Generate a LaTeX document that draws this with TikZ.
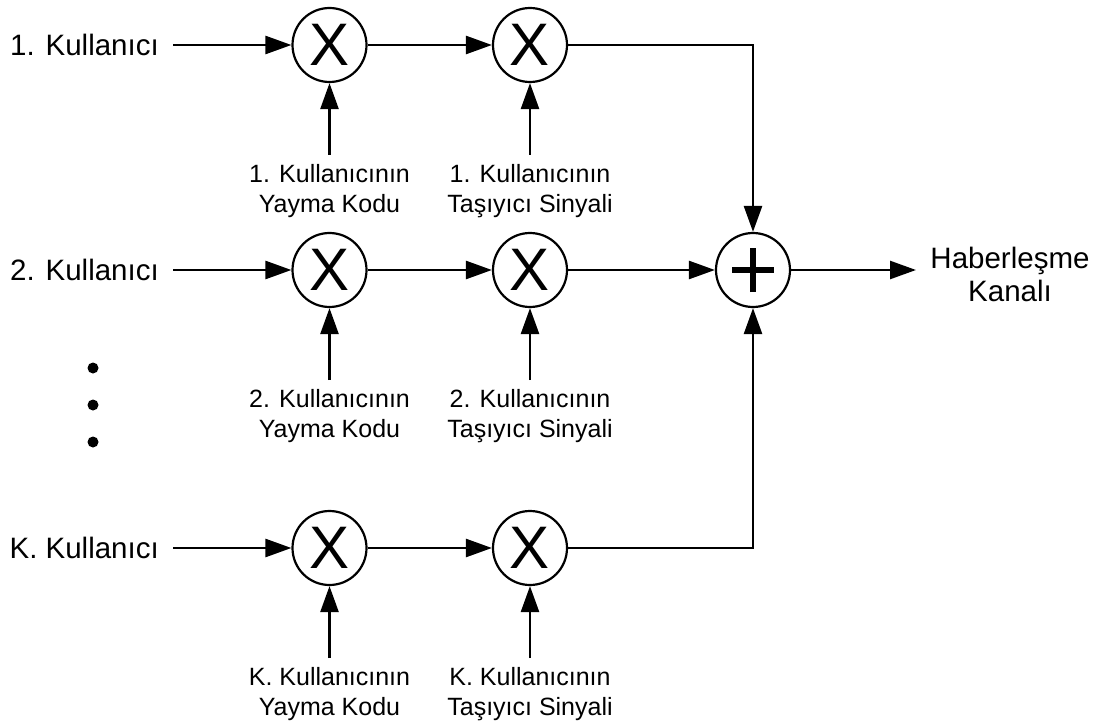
\documentclass[tikz,border=0pt]{standalone}
\usepackage{fontspec}
\setmainfont{Liberation Sans}
\usetikzlibrary{arrows.meta}
\begin{document}
\begin{tikzpicture}[x=1pt,y=-1pt,
  conn/.style={line width=2.6pt,-{Triangle[length=26pt,width=18pt]}},
  wire/.style={line width=2.6pt},
  mult/.style={circle,draw,line width=2.2pt,minimum size=74pt,inner sep=0pt,font=\fontsize{60}{60}\selectfont},
  adder/.style={circle,draw,line width=2.2pt,minimum size=74pt,inner sep=0pt},
  biglab/.style={font=\fontsize{29.5}{33}\selectfont,inner sep=0pt},
  smalllab/.style={font=\fontsize{25}{30}\selectfont,align=center,inner xsep=0pt,inner ysep=9pt,anchor=north}]
\useasboundingbox (0,0) rectangle (1106,722);

% multipliers
\node[mult] (m11) at (329.5,45) {X};
\node[mult] (m12) at (530,45) {X};
\node[mult] (m21) at (329.5,270) {X};
\node[mult] (m22) at (530,270) {X};
\node[mult] (mK1) at (329.5,548) {X};
\node[mult] (mK2) at (530,548) {X};
\node[adder] (add) at (753,270) {};
\draw[line width=5.5pt] ([xshift=-21pt]add.center) -- ([xshift=21pt]add.center);
\draw[line width=5.5pt] ([yshift=-22pt]add.center) -- ([yshift=22pt]add.center);

% input labels
\node[biglab,anchor=east] (u1) at (159,45) {1. Kullanıcı};
\node[biglab,anchor=east] (u2) at (159,270) {2. Kullanıcı};
\node[biglab,anchor=east] (uK) at (159,548) {K. Kullanıcı};

% bottom labels
\node[smalllab] (c1) at (329.5,155) {1. Kullanıcının\\Yayma Kodu};
\node[smalllab] (s1) at (530,155) {1. Kullanıcının\\Taşıyıcı Sinyali};
\node[smalllab] (c2) at (329.5,380) {2. Kullanıcının\\Yayma Kodu};
\node[smalllab] (s2) at (530,380) {2. Kullanıcının\\Taşıyıcı Sinyali};
\node[smalllab] (cK) at (329.5,658) {K. Kullanıcının\\Yayma Kodu};
\node[smalllab] (sK) at (530,658) {K. Kullanıcının\\Taşıyıcı Sinyali};

% output label
\node[biglab,align=center,anchor=north] (out) at (1010,247) {Haberleşme\\Kanalı};
\coordinate (outend) at (916,270);

% dots
\fill (93,368) circle (5.5);
\fill (93,405) circle (5.5);
\fill (93,442) circle (5.5);

% connectors
\draw[conn] ([xshift=14pt]u1.east) -- (m11.west);
\draw[conn] ([xshift=14pt]u2.east) -- (m21.west);
\draw[conn] ([xshift=14pt]uK.east) -- (mK1.west);
\draw[conn] (m11.east) -- (m12.west);
\draw[conn] (m21.east) -- (m22.west);
\draw[conn] (mK1.east) -- (mK2.west);
\draw[conn] (c1.north) -- (m11.south);
\draw[conn] (s1.north) -- (m12.south);
\draw[conn] (c2.north) -- (m21.south);
\draw[conn] (s2.north) -- (m22.south);
\draw[conn] (cK.north) -- (mK1.south);
\draw[conn] (sK.north) -- (mK2.south);
\draw[conn] (m12.east) -| (add.north);
\draw[conn] (m22.east) -- (add.west);
\draw[conn] (mK2.east) -| (add.south);
\draw[conn] (add.east) -- (outend);
\end{tikzpicture}
\end{document}
